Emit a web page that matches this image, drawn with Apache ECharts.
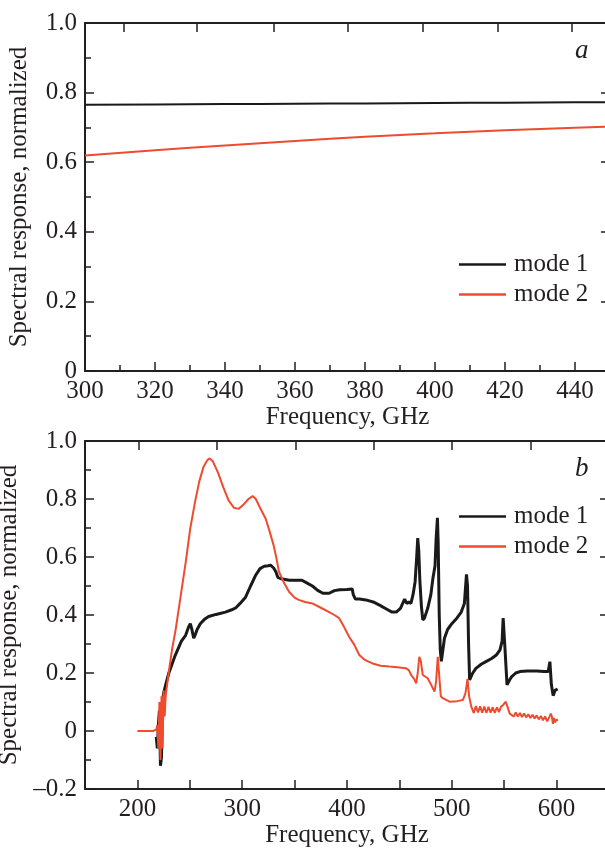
<!DOCTYPE html>
<html>
<head>
<meta charset="utf-8">
<script src="https://cdn.jsdelivr.net/npm/echarts@6/dist/echarts.min.js"></script>
<style>
  html, body { margin: 0; padding: 0; background: #fff; }
  #chart { width: 605px; height: 850px; }
</style>
</head>
<body>
<div id="chart"></div>
<script>
// panel a: calculated response
const freqA = [300, 320, 340, 360, 380, 400, 420, 440, 450];
const mode1A = [0.765, 0.766, 0.767, 0.768, 0.769, 0.770, 0.771, 0.772, 0.772];
const mode2A = [0.619, 0.634, 0.648, 0.661, 0.673, 0.683, 0.692, 0.699, 0.702];

// panel b: measured response, mode 1
const freqB1 = [218, 219, 220, 221, 222, 223, 224, 225, 227, 230, 233, 236, 239, 242, 246, 249, 250.5, 252, 253.7, 255, 257, 260, 264, 268, 275, 284, 290, 294, 298, 303, 308, 313, 317, 321, 325, 327, 330, 332, 334, 337, 345, 357, 362, 367, 372, 377, 383, 388, 393, 400, 405, 406, 408, 412, 418, 425, 431, 438, 443, 447, 451, 455, 457, 459, 461, 463, 465, 466.5, 467.5, 468.5, 469.5, 471, 472.3, 474, 477, 480, 482, 484, 485, 486.3, 487, 488, 489, 490, 491.5, 493, 496, 500, 505, 509, 512, 513, 514, 515, 516, 517, 520, 523, 528, 533, 538, 542.5, 546, 548, 549, 550.5, 552.7, 555, 557, 561, 565, 572, 581, 588, 592, 593.6, 595, 596.7, 598.5, 600, 601];
const mode1B = [-0.02, -0.06, 0.02, 0.07, -0.12, -0.09, 0.10, 0.13, 0.16, 0.20, 0.23, 0.26, 0.285, 0.31, 0.33, 0.36, 0.37, 0.35, 0.32, 0.33, 0.35, 0.37, 0.385, 0.395, 0.402, 0.41, 0.418, 0.425, 0.44, 0.46, 0.50, 0.538, 0.56, 0.568, 0.57, 0.572, 0.562, 0.55, 0.53, 0.525, 0.52, 0.52, 0.51, 0.50, 0.485, 0.475, 0.475, 0.484, 0.487, 0.488, 0.49, 0.47, 0.455, 0.455, 0.452, 0.445, 0.434, 0.42, 0.41, 0.41, 0.423, 0.455, 0.44, 0.445, 0.44, 0.47, 0.515, 0.60, 0.665, 0.62, 0.52, 0.43, 0.383, 0.39, 0.423, 0.47, 0.527, 0.57, 0.66, 0.735, 0.65, 0.40, 0.28, 0.24, 0.28, 0.32, 0.35, 0.37, 0.39, 0.41, 0.44, 0.49, 0.54, 0.50, 0.30, 0.176, 0.20, 0.216, 0.23, 0.24, 0.25, 0.262, 0.28, 0.31, 0.389, 0.30, 0.159, 0.175, 0.187, 0.20, 0.205, 0.207, 0.207, 0.205, 0.205, 0.239, 0.16, 0.122, 0.14, 0.14, 0.145];

// panel b: measured response, mode 2
const freqB2 = [200, 205, 210, 215, 218, 219, 220, 221, 222, 223, 224, 225, 226, 227, 228, 230, 233, 236.2, 241, 246, 250.5, 255, 259, 263, 267, 269, 272, 277, 282, 287, 292, 296.8, 301, 306, 310, 313, 317, 322.3, 326, 330, 333, 335, 340, 344.7, 350, 354, 360, 367, 375, 383, 388, 392.5, 397, 402, 407, 411.7, 417, 424.4, 432, 440.4, 448, 456.4, 459, 461.2, 464, 466, 467.5, 469, 470.5, 472.3, 477, 480.3, 483.5, 485, 486.6, 488, 489.5, 491.4, 497.8, 505, 510.6, 513, 515, 516.5, 518.6, 521, 523, 525, 527, 529, 531, 533, 535, 537, 539, 541, 543, 545, 547, 549, 551.5, 553, 555.3, 557, 559, 561, 563, 565, 567, 569, 571, 573, 575, 577, 579, 581, 583, 585, 587, 589, 591, 593, 594.5, 595.5, 596.5, 597.5, 598.5, 600, 601];
const mode2B = [0, 0, 0, 0, 0.005, 0.02, -0.06, 0.10, -0.10, 0.12, -0.06, 0.14, 0.05, 0.12, 0.15, 0.205, 0.28, 0.343, 0.458, 0.58, 0.70, 0.79, 0.86, 0.91, 0.935, 0.94, 0.93, 0.89, 0.84, 0.795, 0.77, 0.766, 0.78, 0.80, 0.81, 0.80, 0.77, 0.733, 0.69, 0.64, 0.59, 0.55, 0.51, 0.48, 0.46, 0.452, 0.445, 0.44, 0.425, 0.41, 0.40, 0.389, 0.36, 0.325, 0.297, 0.262, 0.245, 0.233, 0.225, 0.222, 0.22, 0.216, 0.21, 0.193, 0.18, 0.164, 0.20, 0.256, 0.24, 0.193, 0.182, 0.159, 0.136, 0.17, 0.256, 0.19, 0.12, 0.113, 0.101, 0.103, 0.107, 0.13, 0.18, 0.12, 0.084, 0.062, 0.086, 0.064, 0.085, 0.063, 0.084, 0.062, 0.083, 0.063, 0.082, 0.062, 0.082, 0.065, 0.084, 0.09, 0.101, 0.085, 0.06, 0.066, 0.05, 0.064, 0.05, 0.062, 0.048, 0.06, 0.047, 0.058, 0.045, 0.056, 0.043, 0.054, 0.04, 0.052, 0.037, 0.05, 0.033, 0.048, 0.06, 0.05, 0.025, 0.045, 0.03, 0.04, 0.035];

// odd top-axis ticks as they appear in the figure
const topTicksA = [311, 332, 354, 375, 396.5, 418, 439];
const topTicksB = [201, 276, 351, 426, 500, 575];

const zip = (xs, ys) => xs.map((x, i) => [x, ys[i]]);

const BLACK = '#1a1a1a';
const RED = '#ef4b2f';
const INK = '#231f20';
const FONT = 'Liberation Serif';
const FS = 25;

const yFmt = v => {
  if (Math.abs(v) < 1e-9) return '0';
  const s = Math.abs(v).toFixed(1);
  return v < 0 ? '\u2013' + s : s;
};

const lineCfg = { show: true, onZero: false, lineStyle: { color: INK, width: 2 } };
const tickCfg = { show: true, inside: true, length: 9, lineStyle: { color: INK, width: 1.5 } };

function bottomX(grid, min, max, interval, extra) {
  return Object.assign({
    type: 'value', gridIndex: grid, position: 'bottom', min: min, max: max, interval: interval,
    name: 'Frequency, GHz', nameLocation: 'middle', nameGap: 34,
    nameTextStyle: { fontFamily: FONT, fontSize: FS, color: INK },
    axisLine: lineCfg,
    axisTick: tickCfg,
    axisLabel: { fontFamily: FONT, fontSize: FS, color: INK, margin: 8, showMaxLabel: false },
    splitLine: { show: false }
  }, extra || {});
}

function topX(grid, min, max, ticks) {
  return {
    type: 'value', gridIndex: grid, position: 'top', min: min, max: max,
    axisLine: lineCfg,
    axisTick: Object.assign({}, tickCfg, { customValues: ticks }),
    axisLabel: { show: false },
    splitLine: { show: false }
  };
}

function leftY(grid, min) {
  return {
    type: 'value', gridIndex: grid, position: 'left', min: min, max: 1.0, interval: 0.2,
    name: 'Spectral response, normalized', nameLocation: 'middle', nameGap: 53,
    nameTextStyle: { fontFamily: FONT, fontSize: FS, color: INK },
    axisLine: lineCfg,
    axisTick: tickCfg,
    minorTick: { show: true, splitNumber: 2, length: 6, lineStyle: { color: INK, width: 1.5 } },
    axisLabel: { fontFamily: FONT, fontSize: FS, color: INK, margin: 8, formatter: yFmt },
    splitLine: { show: false }, minorSplitLine: { show: false }
  };
}

function rightY(grid, min) {
  return {
    type: 'value', gridIndex: grid, position: 'right', min: min, max: 1.0, interval: 0.2,
    axisLine: lineCfg,
    axisTick: tickCfg,
    axisLabel: { show: false },
    splitLine: { show: false }
  };
}

function legendAt(top) {
  return {
    orient: 'vertical', left: 459, top: top, padding: 0, icon: 'rect', itemWidth: 47, itemHeight: 2.5, itemGap: 5,
    textStyle: { fontFamily: FONT, fontSize: FS, color: INK, lineHeight: 25, padding: [0, 0, 0, 3] },
    data: ['mode 1', 'mode 2']
  };
}

const chart = echarts.init(document.getElementById('chart'), null, { renderer: 'canvas' });

chart.setOption({
  animation: false,
  backgroundColor: '#fff',
  title: [
    { text: 'a', left: 570, top: 32, textStyle: { fontFamily: FONT, fontStyle: 'italic', fontWeight: 'normal', fontSize: 27, color: INK } },
    { text: 'b', left: 570, top: 450, textStyle: { fontFamily: FONT, fontStyle: 'italic', fontWeight: 'normal', fontSize: 27, color: INK } }
  ],
  legend: [legendAt(252), legendAt(504)],
  grid: [
    { left: 85, top: 23, width: 525, height: 348, outerBoundsMode: 'none' },
    { left: 85, top: 441, width: 524, height: 348, outerBoundsMode: 'none' }
  ],
  xAxis: [
    bottomX(0, 300, 450, 20, { minorTick: { show: true, splitNumber: 2, length: 6, lineStyle: { color: INK, width: 1.5 } } }),
    topX(0, 300, 450, topTicksA),
    bottomX(1, 150, 650, 50, { axisLabel: { fontFamily: FONT, fontSize: FS, color: INK, margin: 8,
      formatter: v => (v % 100 === 0 && v < 650 ? String(v) : '') } }),
    topX(1, 150, 650, topTicksB)
  ],
  yAxis: [leftY(0, 0), rightY(0, 0), leftY(1, -0.2), rightY(1, -0.2)],
  series: [
    { name: 'mode 1', type: 'line', xAxisIndex: 0, yAxisIndex: 0, data: zip(freqA, mode1A), smooth: true,
      symbol: 'none', lineStyle: { color: BLACK, width: 2 }, itemStyle: { color: BLACK } },
    { name: 'mode 2', type: 'line', xAxisIndex: 0, yAxisIndex: 0, data: zip(freqA, mode2A), smooth: true,
      symbol: 'none', lineStyle: { color: RED, width: 2 }, itemStyle: { color: RED } },
    { name: 'mode 1', type: 'line', xAxisIndex: 2, yAxisIndex: 2, data: zip(freqB1, mode1B),
      symbol: 'none', lineStyle: { color: BLACK, width: 3 }, itemStyle: { color: BLACK } },
    { name: 'mode 2', type: 'line', xAxisIndex: 2, yAxisIndex: 2, data: zip(freqB2, mode2B),
      symbol: 'none', lineStyle: { color: RED, width: 2 }, itemStyle: { color: RED } }
  ]
});
</script>
</body>
</html>
